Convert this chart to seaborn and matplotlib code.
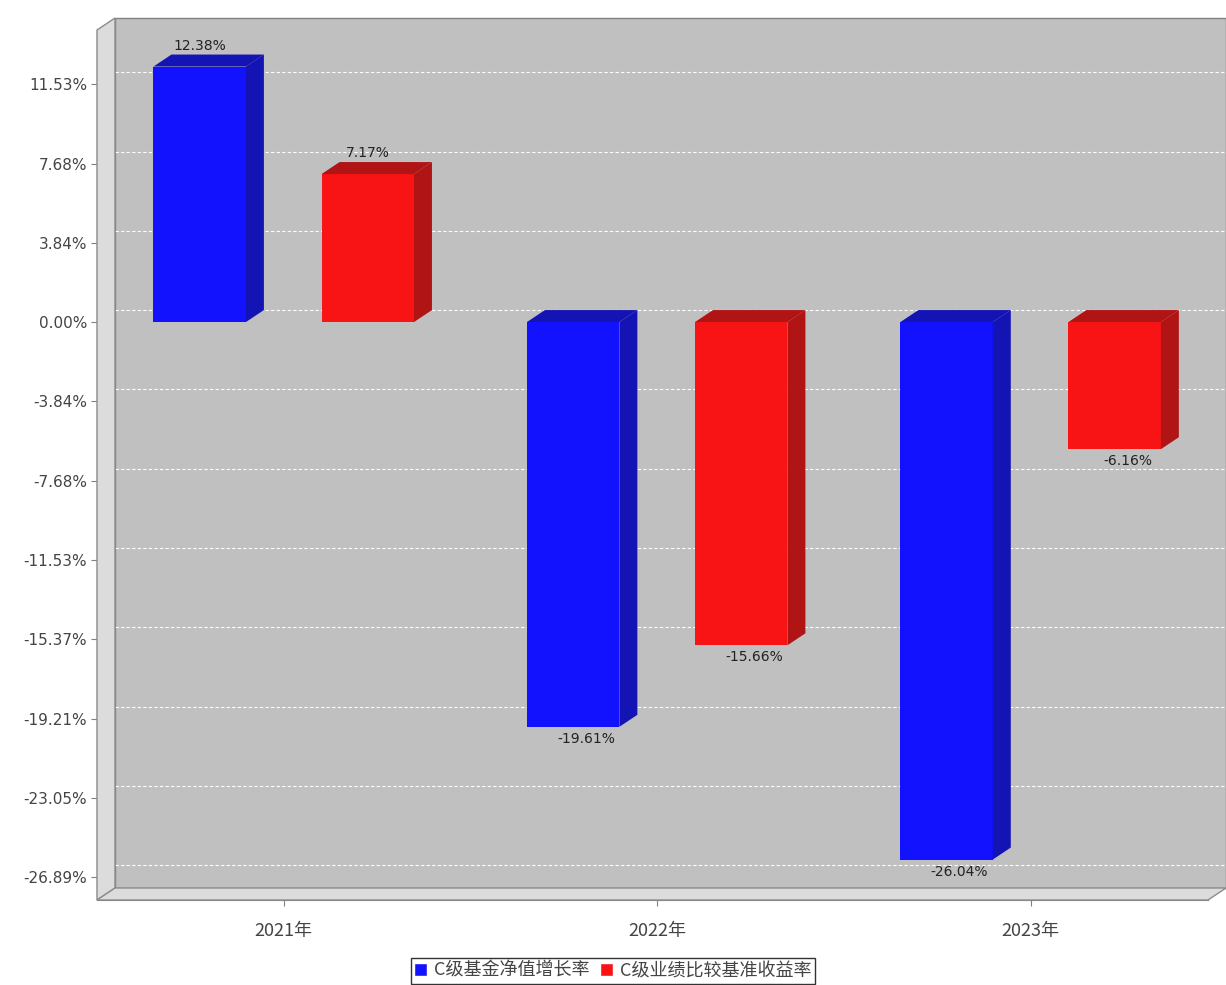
import matplotlib
matplotlib.use("Agg")
import matplotlib.pyplot as plt
import seaborn as sns
import pandas as pd
from matplotlib.patches import Polygon, Rectangle
from matplotlib.transforms import ScaledTranslation

years = ["2021年", "2022年", "2023年"]
series = ["C级基金净值增长率", "C级业绩比较基准收益率"]
fund_vals = [12.38, -19.61, -26.04]
bench_vals = [7.17, -15.66, -6.16]
yticks = [11.53, 7.68, 3.84, 0.00, -3.84, -7.68, -11.53, -15.37, -19.21, -23.05, -26.89]

face_colors = ["#1212ff", "#f81414"]
side_colors = ["#1414b4", "#b01414"]

DX, DY = 18, 12  # 3D depth in pixels

df = pd.DataFrame({
    "year": years * 2,
    "series": [series[0]] * 3 + [series[1]] * 3,
    "value": fund_vals + bench_vals,
})

sns.set_style("white")
plt.rcParams["font.family"] = ["Noto Sans CJK SC", "DejaVu Sans"]

fig = plt.figure(figsize=(12.26, 9.85), dpi=100)
ax = fig.add_axes([97 / 1226, 1 - 900 / 985, 1111 / 1226, 870 / 985])
ax.patch.set_visible(False)

sns.barplot(data=df, x="year", y="value", hue="series", palette=face_colors,
            width=0.9, gap=0.45, saturation=1, legend=False, ax=ax, zorder=5,
            edgecolor="none")
ax.set_xlim(-0.5, 2.475)
ax.set_ylim(-28.0, 14.15)

off = ScaledTranslation(DX / 100, DY / 100, fig.dpi_scale_trans)

# back wall
ax.add_patch(Rectangle((0, 0), 1, 1, transform=ax.transAxes + off,
                       facecolor="#c0c0c0", edgecolor="#808080", lw=1, zorder=0, clip_on=False))
fig.canvas.draw()
p00 = ax.transAxes.transform((0, 0))
p01 = ax.transAxes.transform((0, 1))
p10 = ax.transAxes.transform((1, 0))
left_wall = [p00, p01, p01 + (DX, DY), p00 + (DX, DY)]
floor = [p00, p10, p10 + (DX, DY), p00 + (DX, DY)]
for poly in (left_wall, floor):
    fig.patches.append(Polygon(poly, closed=True, transform=None, facecolor="#dcdcdc",
                               edgecolor="#8c8c8c", lw=1, zorder=0))

# gridlines on back wall
gtr = ax.get_yaxis_transform() + off
for t in yticks:
    ax.plot([0, 1], [t, t], transform=gtr, color="white", lw=0.8, ls=(0, (3, 2)),
            zorder=1, clip_on=False)

# 3D faces and labels
values = fund_vals + bench_vals
bars = [p for p in ax.patches if isinstance(p, Rectangle) and p.get_width() < 0.5]
for i, bar in enumerate(bars):
    s = i // 3
    x0, w = bar.get_x(), bar.get_width()
    y_a, y_b = bar.get_y(), bar.get_y() + bar.get_height()
    top, bot = max(y_a, y_b), min(y_a, y_b)
    tl = ax.transData.transform((x0, top))
    tr = ax.transData.transform((x0 + w, top))
    br = ax.transData.transform((x0 + w, bot))
    d = (DX, DY)
    ax.add_patch(Polygon([tl, tr, tr + d, tl + d], closed=True, transform=None,
                         facecolor=side_colors[s], edgecolor="none", zorder=6))
    ax.add_patch(Polygon([br, tr, tr + d, br + d], closed=True, transform=None,
                         facecolor=side_colors[s], edgecolor="none", zorder=6))
    val = values[i]
    cx = x0 + w / 2
    if val >= 0:
        ax.annotate(f"{val:.2f}%", (cx, val), xytext=(0, DY + 2), textcoords="offset pixels",
                    ha="center", va="bottom", fontsize=10, color="#222222",
                    family="DejaVu Sans", zorder=7)
    else:
        ax.annotate(f"{val:.2f}%", (cx, val), xytext=(13, -5), textcoords="offset pixels",
                    ha="center", va="top", fontsize=10, color="#222222",
                    family="DejaVu Sans", zorder=7)

ax.set_yticks(yticks)
ax.set_yticklabels([f"{t:.2f}%" for t in yticks], fontsize=11, color="#444444",
                   family="DejaVu Sans")
ax.tick_params(axis="x", labelsize=13, labelcolor="#444444", length=4, color="#808080",
               pad=12, bottom=True)
ax.tick_params(axis="y", length=4, color="#808080", left=True, pad=3)
ax.set_xlabel("")
ax.set_ylabel("")
for sp in ["top", "right"]:
    ax.spines[sp].set_visible(False)
for sp in ["left", "bottom"]:
    ax.spines[sp].set_color("#808080")
    ax.spines[sp].set_zorder(8)

handles = [Rectangle((0, 0), 1, 1, facecolor=c) for c in face_colors]
leg = fig.legend(handles, series, loc="center", bbox_to_anchor=(0.5, 1 - 971 / 985),
                 ncol=2, frameon=True, fontsize=13, handlelength=0.7, handleheight=0.7,
                 handletextpad=0.4, columnspacing=0.6, borderpad=0.2, fancybox=False)
leg.get_frame().set_edgecolor("black")
for t in leg.get_texts():
    t.set_color("#444444")

fig.savefig("out.png", dpi=100)
